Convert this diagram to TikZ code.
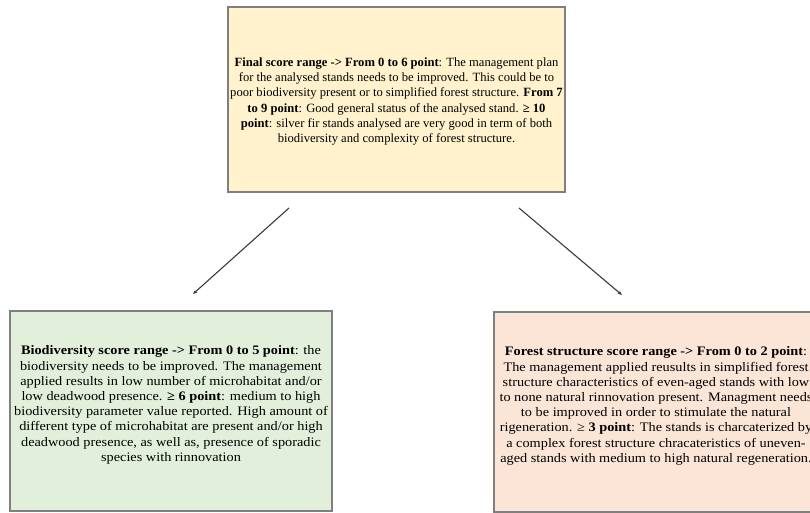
\documentclass[tikz,border=0pt]{standalone}
\usepackage{fontspec}
\setmainfont{Liberation Serif}
\newfontfamily\widefont[FakeStretch=1.1]{Liberation Serif}
\usetikzlibrary{arrows.meta}
\definecolor{topfill}{HTML}{FFF2CC}
\definecolor{greenfill}{HTML}{E2EFDA}
\definecolor{pinkfill}{HTML}{FBE5D6}
\definecolor{boxline}{HTML}{7F7F7F}
\definecolor{arrowline}{HTML}{3A3A3A}
\tikzset{
  box/.style={draw=boxline, line width=1.1pt, rectangle, inner sep=0pt},
  txt/.style={align=center, inner sep=0pt, font=\fontsize{12.6}{15.3}\selectfont},
  widetxt/.style={align=center, inner sep=0pt, font=\widefont\fontsize{13}{15.2}\selectfont},
  conn/.style={draw=arrowline, line width=1.1pt, -{Stealth[length=4.5pt,width=3.5pt]}}
}
\begin{document}
\begin{tikzpicture}[x=1pt,y=-1pt]
\useasboundingbox (0,0) rectangle (810,513);
\clip (0,0) rectangle (810,513);
\fill[white] (0,0) rectangle (810,513);
% boxes
\node[box, fill=topfill, minimum width=337pt, minimum height=185pt] (top) at (396.5,99.5) {};
\node[box, fill=greenfill, minimum width=322pt, minimum height=200pt] (bio) at (171,411) {};
\node[box, fill=pinkfill, minimum width=324pt, minimum height=200pt] (fs) at (656,412) {};
% texts
\node[txt] (toptxt) at ([yshift=-2pt]top.center) {%
\textbf{Final score range -> From 0 to 6 point}: The management plan\\
for the analysed stands needs to be improved. This could be to\\
poor biodiversity present or to simplified forest structure. \textbf{From 7}\\
\textbf{to 9 point}: Good general status of the analysed stand. \textbf{≥ 10}\\
\textbf{point}: silver fir stands analysed are very good in term of both\\
biodiversity and complexity of forest structure.};
\node[widetxt] (biotxt) at ([yshift=6pt]bio.center) {%
\textbf{Biodiversity score range -> From 0 to 5 point}: the\\
biodiversity needs to be improved. The management\\
applied results in low number of microhabitat and/or\\
low deadwood presence. \textbf{≥ 6 point}: medium to high\\
biodiversity parameter value reported. High amount of\\
different type of microhabitat are present and/or high\\
deadwood presence, as well as, presence of sporadic\\
species with rinnovation};
\node[widetxt] (fstxt) at ([yshift=6pt]fs.center) {%
\textbf{Forest structure score range -> From 0 to 2 point}:\\
The management applied reusults in simplified forest\\
structure characteristics of even-aged stands with low\\
to none natural rinnovation present. Managment needs\\
to be improved in order to stimulate the natural\\
rigeneration. ≥ \textbf{3 point}: The stands is charcaterized by\\
a complex forest structure chracateristics of uneven-\\
aged stands with medium to high natural regeneration.};
% connectors
\coordinate (l0) at (289,208);
\coordinate (l1) at (193,294);
\coordinate (r0) at (519,208);
\coordinate (r1) at (622,295);
\draw[conn] (l0) -- (l1);
\draw[conn] (r0) -- (r1);
\end{tikzpicture}
\end{document}
